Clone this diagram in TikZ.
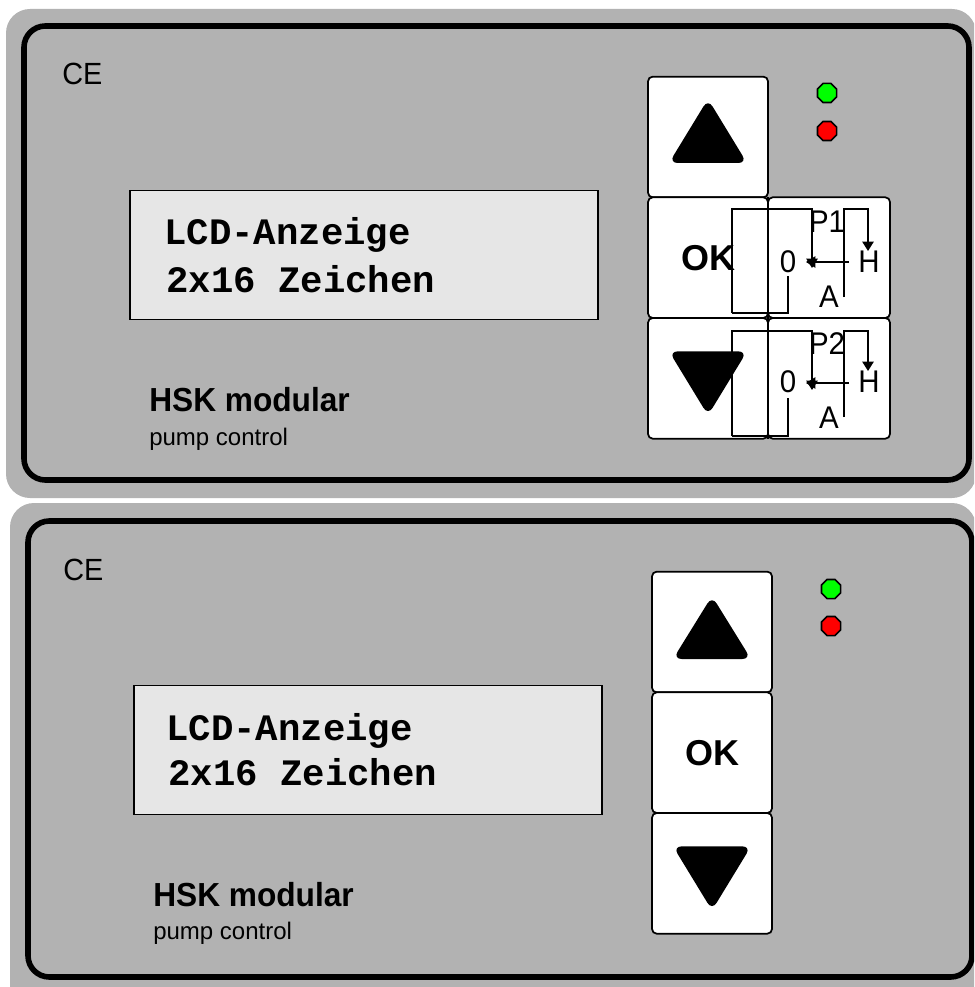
\documentclass[tikz,border=0pt]{standalone}
\usepackage{fontspec}
\setmainfont{Liberation Sans}
\newfontfamily\lcdfont{Liberation Mono}
\newfontfamily\narrowfont[FakeStretch=0.94]{Liberation Sans}
\newfontfamily\brandfont[FakeStretch=0.95]{Liberation Sans}
\usetikzlibrary{arrows.meta, positioning, shapes.geometric}
\definecolor{panelgray}{HTML}{B2B2B2}
\definecolor{lcdgray}{HTML}{E6E6E6}
\tikzset{
  x=0.75pt,
  y=-0.75pt,
  >={Stealth[length=7pt,width=8.5pt,inset=0pt]},
  panel/.style={fill=panelgray, rounded corners=18pt},
  frame/.style={draw=black, line width=4.2pt, rounded corners=16pt},
  key/.style={rectangle, rounded corners=3.5pt, draw=black, line width=1.3pt, fill=white,
    inner sep=0pt, outer sep=0pt, minimum width=90pt, minimum height=90.5pt},
  keywide/.style={key, minimum width=91.5pt},
  keytext/.style={font=\bfseries\fontsize{27}{27}\selectfont},
  tri/.style={fill=black, rounded corners=6.5pt},
  led/.style={regular polygon, regular polygon sides=8, draw=black, line width=1.2pt,
    inner sep=0pt, minimum size=15.5pt},
  lcd/.style={draw=black, line width=0.8pt, fill=lcdgray, minimum width=351pt, minimum height=96.5pt,
    inner sep=0pt, outer sep=0pt},
  lcdtext/.style={font=\lcdfont\bfseries\fontsize{28}{28}\selectfont, anchor=base west, inner sep=0pt},
  ce/.style={font=\narrowfont\fontsize{23}{23}\selectfont, anchor=base west, inner sep=0pt},
  brand/.style={font=\brandfont\bfseries\fontsize{25}{25}\selectfont, anchor=base west, inner sep=0pt},
  sub/.style={font=\fontsize{18}{18}\selectfont, anchor=base west, inner sep=0pt},
  wire/.style={draw=black, line width=1.1pt},
  sym/.style={font=\narrowfont\fontsize{23.5}{23.5}\selectfont, inner sep=0pt},
}

\begin{document}
\begin{tikzpicture}
  \useasboundingbox (0,0) rectangle (974,987);
  \clip (0,0) rectangle (974,987);

  % backgrounds
  \fill[panel] (6,9) rectangle (976,498);
  \fill[panel] (10,503) rectangle (976,1010);
  \draw[frame] (24,26) rectangle (969,480);
  \draw[frame] (28,521) rectangle (972,977);

  % upper unit
  \node[ce] (ce1) at (62,85) {CE};
  \node[lcd] (lcd1) at (364,255) {};
  \node[lcdtext] (line1a) at (164,245) {LCD-Anzeige};
  \node[lcdtext] (line1b) at (166,292) {2x16 Zeichen};
  \node[brand] (brand1) at (149,411) {HSK modular};
  \node[sub] (sub1) at (149,445) {pump control};

  \node[key] (up1) at (708,137) {};
  \node[key, keytext, below=0pt of up1] (ok1) {OK};
  \node[key, below=0pt of ok1] (down1) {};
  \node[keywide, right=0pt of ok1] (p1key) {};
  \node[keywide, right=0pt of down1] (p2key) {};
  \draw[wire, line width=1.5pt] (ok1.north east) -- (down1.south east);

  \fill[tri, shift={(up1.center)}] (0,-38) -- (39,26) -- (-39,26) -- cycle;
  \fill[tri, shift={(down1.center)}] (0,37) -- (39,-27) -- (-39,-27) -- cycle;

  \node[led, fill=green] (green1) at (827,93) {};
  \node[led, fill=red] (red1) at (827,131) {};

  \node[sym] (p1) at (827,222) {P1};
  \node[sym] (zero1) at (788,262) {0};
  \node[sym] (high1) at (869,262) {H};
  \node[sym] (auto1) at (829,297) {A};
  \coordinate (rect1) at (732,209);
  \coordinate (rect1b) at (732,313);
  \coordinate (bar1) at (844,209);
  \coordinate (bar1b) at (844,297);
  \coordinate (tip1) at (812,268);
  \coordinate (tip1l) at (806,262);
  \coordinate (tip1h) at (868,251);
  \coordinate (stub1) at (849,262);
  \draw[wire, ->] (rect1b) -- (rect1) -| (tip1);
  \draw[wire] (rect1b) -| (zero1.south |- 0,276);
  \draw[wire, ->] (bar1b) -- (bar1) -| (tip1h);
  \draw[wire, ->] (stub1) -- (tip1l);

  \node[sym] (p2) at (827,344) {P2};
  \node[sym] (zero2) at (788,382) {0};
  \node[sym] (high2) at (869,382) {H};
  \node[sym] (auto2) at (829,418) {A};
  \coordinate (rect2) at (732,331);
  \coordinate (rect2b) at (732,436);
  \coordinate (bar2) at (844,331);
  \coordinate (bar2b) at (844,417);
  \coordinate (tip2) at (812,390);
  \coordinate (tip2l) at (806,383);
  \coordinate (tip2h) at (868,371);
  \coordinate (stub2) at (849,383);
  \draw[wire, ->] (rect2b) -- (rect2) -| (tip2);
  \draw[wire] (rect2b) -| (zero2.south |- 0,398);
  \draw[wire, ->] (bar2b) -- (bar2) -| (tip2h);
  \draw[wire, ->] (stub2) -- (tip2l);

  % lower unit
  \node[ce] (ce2) at (63,580) {CE};
  \node[lcd] (lcd2) at (368,750) {};
  \node[lcdtext] (line2a) at (166,740) {LCD-Anzeige};
  \node[lcdtext] (line2b) at (168,785) {2x16 Zeichen};
  \node[brand] (brand2) at (153,906) {HSK modular};
  \node[sub] (sub2) at (153,939) {pump control};

  \node[key] (up2) at (712,632) {};
  \node[key, keytext, below=0pt of up2] (ok2) {OK};
  \node[key, below=0pt of ok2] (down2) {};

  \fill[tri, shift={(up2.center)}] (0,-36) -- (39,27) -- (-39,27) -- cycle;
  \fill[tri, shift={(down2.center)}] (0,37) -- (39,-27) -- (-39,-27) -- cycle;

  \node[led, fill=green] (green2) at (831,589) {};
  \node[led, fill=red] (red2) at (831,626) {};
\end{tikzpicture}
\end{document}
